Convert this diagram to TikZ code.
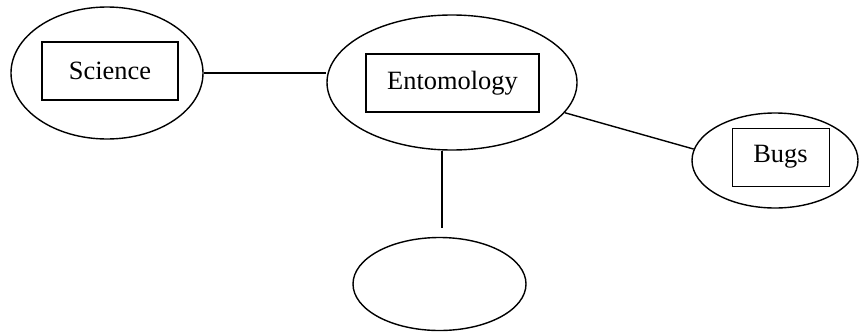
\documentclass[tikz,border=0pt]{standalone}
\usepackage{fontspec}
\setmainfont{Liberation Serif}
\usepackage{tikz}
\usetikzlibrary{shapes,arrows}
\tikzstyle{bubble} = [ellipse, draw, line width=0.7pt, inner sep=0pt]
\tikzstyle{term} = [rectangle, draw, line width=0.7pt, inner sep=0pt,
    minimum height=29pt, font=\fontsize{13.2}{16}\selectfont]
\tikzstyle{line} = [draw, line width=0.7pt]

\begin{document}
\begin{tikzpicture}[x=0.5pt, y=-0.5pt]
    \useasboundingbox (0,0) rectangle (860,332);
    % Place nodes
    \node [bubble, minimum width=96pt, minimum height=66pt] (sciE) at (107,73) {};
    \node [term, minimum width=68pt] (sci) at (110,71) {Science};
    \node [bubble, minimum width=125pt, minimum height=67.5pt] (entE) at (452,82.5) {};
    \node [term, minimum width=86.5pt] (ent) at (452.5,83) {Entomology};
    \node [bubble, minimum width=83pt, minimum height=47.5pt] (bugE) at (775,160.5) {};
    \node [term, line width=0.4pt, minimum width=48.5pt] (bug) at (780.5,157) {Bugs};
    \node [bubble, minimum width=86.5pt, minimum height=46.5pt] (blank) at (439.5,284) {};
    \coordinate (stub) at (442,228);
    % Draw edges
    \path [line] (sciE.east) -- (sciE.east -| entE.west);
    \path [line] (entE.-15) -- (bugE.172);
    \path [line] (stub |- entE.south) -- (stub);
\end{tikzpicture}
\end{document}
